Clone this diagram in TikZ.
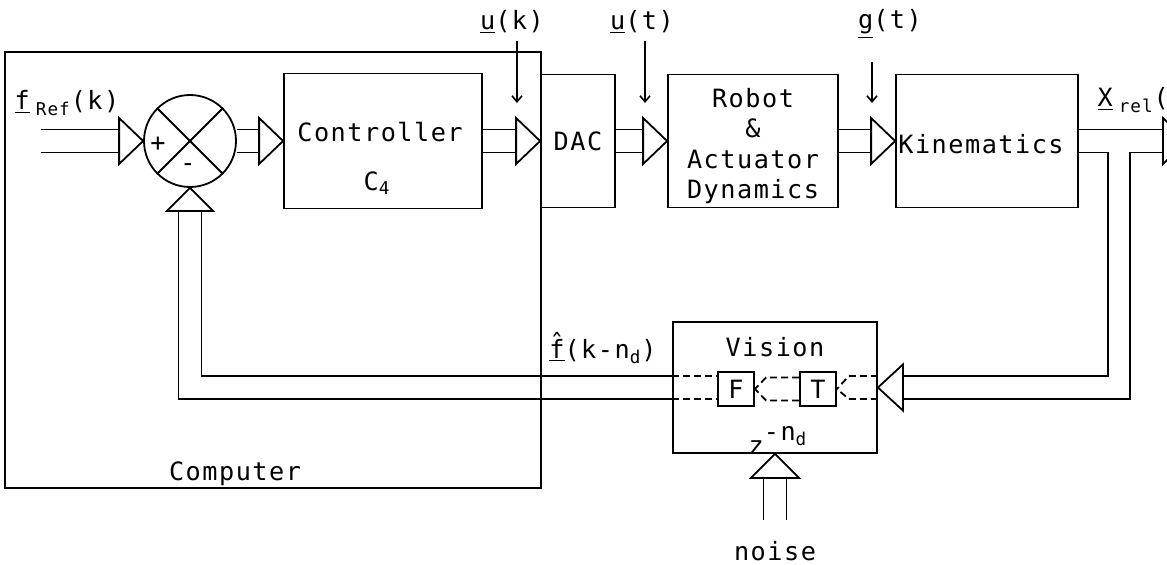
\documentclass[tikz,border=0pt]{standalone}
\usepackage{fontspec}
\setmainfont{DejaVu Sans Mono}[LetterSpace=6]
\usetikzlibrary{arrows.meta, calc}

\newcommand\gap{5.75pt}
% double signal line with open triangle head
\newcommand\busto[2]{%
  \draw ([yshift=\gap]#1.east) -- ([xshift=-12pt,yshift=\gap]#2.west)
        ([yshift=-\gap]#1.east) -- ([xshift=-12pt,yshift=-\gap]#2.west);
  \draw[fill=white] (#2.west) -- ++(-24,-23) -- ++(0,46) -- cycle;}

\begin{document}
\begin{tikzpicture}[x=0.5pt, y=-0.5pt, line width=0.9pt,
    font=\fontsize{12.6}{15.3}\selectfont,
    block/.style={draw, inner sep=0pt},
    sig/.style={-{Straight Barb[length=3pt,width=5pt]}, line width=0.8pt},
    fine/.style={dash pattern=on 3.5pt off 2pt}]
  \useasboundingbox (0,0) rectangle (1167,564);

  % computer part
  \node[block, minimum width=268pt, minimum height=218pt] (comp) at (273,270) {};
  \node (complbl) at (235,474) {Computer};

  \node[draw, circle, minimum size=46pt, inner sep=0pt] (sum) at (190,141) {};
  \draw (sum.45) -- (sum.225) (sum.135) -- (sum.315);
  \node (plus) at (158,144) {+};
  \node (minus) at (188,168) {-};

  \node[block, minimum width=99pt, minimum height=67.5pt] (ctrl) at (383,141) {};
  \node (ctrltxt) at (380,132) {Controller};
  \node (ctrlsub) at (377,183) {C\textsubscript{4}};

  % plant
  \node[block, minimum width=37pt, minimum height=66.5pt] (dac) at (578,141) {DAC};
  \node[block, minimum width=85pt, minimum height=66.5pt] (robot) at (753,141) {};
  \node[align=center] (robottxt) at (753,146) {Robot\\\&\\Actuator\\Dynamics};
  \node[block, minimum width=91pt, minimum height=66.5pt] (kin) at (987,141) {};
  \node (kintxt) at (981,144) {Kinematics};

  % vision
  \node[block, minimum width=102pt, minimum height=65.5pt] (vision) at (775,387.5) {};
  \node (vistxt) at (775,347) {Vision};
  \node (delay) at (778,440) {z\raisebox{7pt}{-n\textsubscript{d}}};
  \node[block, minimum width=18pt, minimum height=17pt] (ff) at (736,389) {F};
  \node[block, minimum width=18pt, minimum height=17pt] (tt) at (818,389) {T};

  % signal labels
  \node (fref) at (67,103) {\underline{f}\hspace{3pt}\textsubscript{Ref}(k)};
  \node (ukl) at (512,22) {\underline{u}(k)};
  \node (utl) at (642,22) {\underline{u}(t)};
  \node (gtl) at (890,24) {\underline{g}(t)};
  \node[anchor=west] (xrl) at (1090,100) {\underline{X}\hspace{3pt}\textsubscript{rel}(t)};
  \node (fhat) at (603,348) {\underline{\^{f}}(k-n\textsubscript{d})};
  \node (noise) at (775,551) {noise};

  \coordinate (fin) at (41,141);
  \coordinate (xrel) at (1187,141);
  \coordinate (br1) at (1108,0);
  \coordinate (br2) at (1130,0);
  \coordinate (uk) at (517,103);
  \coordinate (ut) at (645,103);
  \coordinate (gt) at (872,103);
  \coordinate (nz1) at (763.5,520);
  \coordinate (nz2) at (786.5,520);

  % forward path
  \busto{fin}{sum}
  \busto{sum}{ctrl}
  \busto{ctrl}{dac}
  \busto{dac}{robot}
  \busto{robot}{kin}

  \draw[sig] (ukl.south -| uk) -- (uk);
  \draw[sig] (utl.south -| ut) -- (ut);
  \draw[sig, shorten <=8pt] (gtl.south -| gt) -- (gt);

  % output and branch to vision
  \coordinate (vin1) at ([xshift=12.5pt,yshift=\gap]vision.east);
  \coordinate (vin2) at ([xshift=12.5pt,yshift=-\gap]vision.east);
  \draw ([yshift=\gap]kin.east) -- ([xshift=-12pt,yshift=\gap]xrel);
  \draw[fill=white] (xrel) -- ++(-24,-23) -- ++(0,46) -- cycle;
  \draw ([yshift=-\gap]kin.east) -| (br1 |- vin1) -- (vin1);
  \draw ([xshift=-12pt,yshift=-\gap]xrel) -| (br2 |- vin2) -- (vin2);
  \draw[fill=white] (vision.east) -- ++(25,-23) -- ++(0,46) -- cycle;

  % inside vision
  \draw[fine] ([yshift=\gap]vision.east) -- ++(-29,0) -- (tt.east);
  \draw[fine] ([yshift=-\gap]vision.east) -- ++(-29,0) -- (tt.east);
  \draw[fine] ([yshift=\gap]tt.west) -- ++(-33,0) -- (ff.east);
  \draw[fine] ([yshift=-\gap]tt.west) -- ++(-33,0) -- (ff.east);
  \draw[fine] ([yshift=\gap]vision.west) -- ([yshift=\gap]vision.west -| ff.west);
  \draw[fine] ([yshift=-\gap]vision.west) -- ([yshift=-\gap]vision.west -| ff.west);

  % feedback
  \coordinate (fb1) at ([xshift=\gap,yshift=-11.5pt]sum.south);
  \coordinate (fb2) at ([xshift=-\gap,yshift=-11.5pt]sum.south);
  \draw ([yshift=\gap]vision.west) -| (fb1);
  \draw ([yshift=-\gap]vision.west) -| (fb2);
  \draw[fill=white] (sum.south) -- ++(-23,23) -- ++(46,0) -- cycle;

  % noise
  \draw[fill=white] (vision.south) -- ++(-24,24) -- ++(48,0) -- cycle;
  \draw ([xshift=-\gap,yshift=-12pt]vision.south) -- (nz1);
  \draw ([xshift=\gap,yshift=-12pt]vision.south) -- (nz2);
\end{tikzpicture}
\end{document}
